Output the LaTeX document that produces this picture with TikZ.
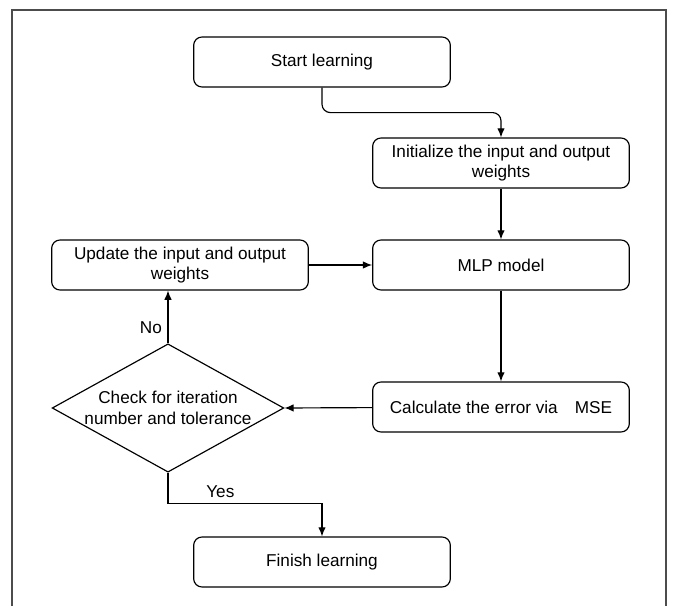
\documentclass[tikz,border=0pt]{standalone}
\usepackage{fontspec}
\setmainfont{Liberation Sans}
\usetikzlibrary{shapes.geometric,arrows.meta}

\begin{document}
\begin{tikzpicture}[x=0.6pt,y=0.6pt,line width=0.7pt,>={Latex[length=5.5pt,width=4.5pt]},
  box/.style={draw,rounded corners=5pt,minimum width=154pt,minimum height=30pt,
    inner sep=2pt,align=center,font=\fontsize{10.3}{12.5}\selectfont},
  decision/.style={draw,diamond,minimum width=139pt,minimum height=77pt,inner sep=0pt},
  lbl/.style={font=\fontsize{10.3}{12.5}\selectfont}]

\useasboundingbox (0,0) rectangle (673,606);

% outer frame
\draw[line width=0.8pt,black!70] (12,0) |- (666,596) -- (666,0);

\node[box] (start)  at (322,544) {Start learning};
\node[box] (init)   at (501,443) {Initialize the input and output\\weights};
\node[box] (mlp)    at (501,341) {MLP model};
\node[box] (update) at (180,341) {Update the input and output\\weights};
\node[box] (calc)   at (501,199) {Calculate the error via\quad MSE};
\node[decision, label={[lbl,align=center]center:Check for iteration\\number and tolerance}] (check) at (168,198) {};
\node[box] (finish) at (322,44)  {Finish learning};

\draw[->,rounded corners=5pt] (start.south) -- ++(0,-25) -| (init.north);
\draw[->] (init) -- (mlp);
\draw[->] (mlp) -- (calc);
\draw[->] (calc) -- (check.east);
\draw[->] (check.north) -- node[lbl,pos=0.3,left] {No} (check.north |- update.south);
\draw[->] (update) -- (mlp);
\draw[->] (check.south) -- ++(0,-31) -| node[lbl,pos=0.17,above] {Yes} (finish.north);

\end{tikzpicture}
\end{document}
